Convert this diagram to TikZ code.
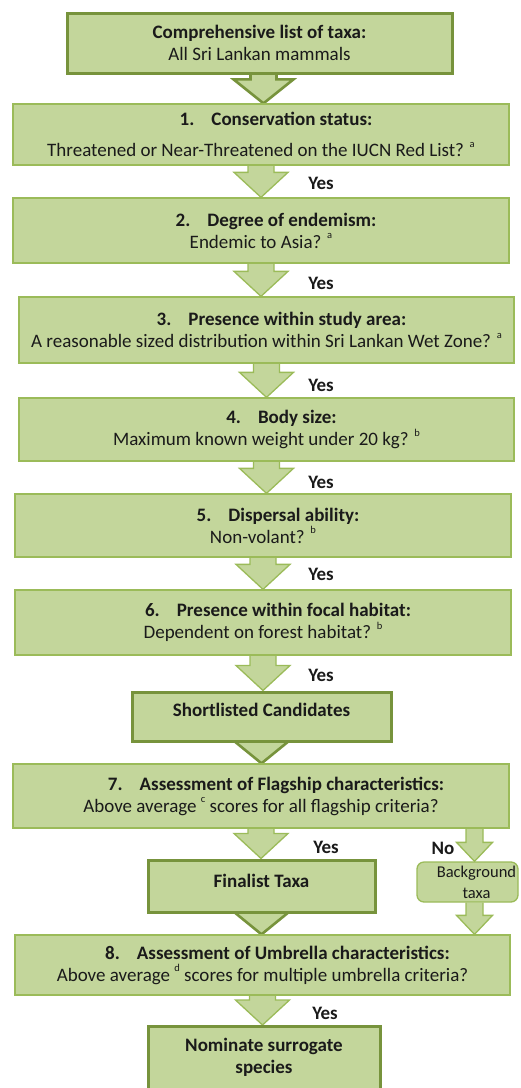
\documentclass[tikz,border=0pt]{standalone}
\usepackage{fontspec}
\setmainfont{Carlito}
\usetikzlibrary{calc,backgrounds}
\definecolor{boxfill}{HTML}{C3D69B}
\definecolor{thinborder}{HTML}{9BBB59}
\definecolor{thickborder}{HTML}{77933C}
\definecolor{txt}{HTML}{1A1A1A}
\newcommand{\sups}[1]{\raisebox{0.5em}{\fontsize{10.5}{10.5}\selectfont #1}}
% block arrow: [style]{from}{to}{shaft half width}{head half width}{head length}
\newcommand{\flowarrow}[6][]{%
  \draw[#1] let \p1=(#2), \p2=(#3) in
    (\x1-#4pt,\y1) -- (\x1-#4pt,\y2+#6pt) -- (\x1-#5pt,\y2+#6pt) -- (\x1,\y2)
    -- (\x1+#5pt,\y2+#6pt) -- (\x1+#4pt,\y2+#6pt) -- (\x1+#4pt,\y1);
}
\begin{document}
\begin{tikzpicture}[x=1pt,y=1pt,
  box/.style={draw=thinborder, fill=boxfill, line width=1.3pt, align=center,
    inner sep=0pt, text=txt, font=\fontsize{19}{22}\selectfont},
  thickbox/.style={box, draw=thickborder, line width=3pt},
  bgbox/.style={box, rounded corners=7pt, font=\fontsize{16.5}{21}\selectfont},
  thinarrow/.style={fill=boxfill, draw=thinborder, line width=1.3pt},
  thickarrow/.style={fill=boxfill, draw=thickborder, line width=2.6pt},
  lab/.style={font=\fontsize{19}{22}\selectfont\bfseries, text=txt, inner sep=0pt}]
\useasboundingbox (0,0) rectangle (520,-1088);

\node[thickbox, minimum width=385pt, minimum height=60pt] (top) at (259.5,-43)
  {\textbf{Comprehensive list of taxa:}\\All Sri Lankan mammals};
\node[box, minimum width=496pt, minimum height=61pt] (b1) at (261,-134.5)
  {\hspace*{30pt}\textbf{1.\hspace{0.9em}Conservation status:}\\[9pt]Threatened or Near-Threatened on the IUCN Red List? \sups{a}};
\node[box, minimum width=496pt, minimum height=65pt] (b2) at (261,-230.5)
  {\hspace*{30pt}\textbf{2.\hspace{0.9em}Degree of endemism:}\\Endemic to Asia? \sups{a}};
\node[box, minimum width=495pt, minimum height=66pt] (b3) at (266.5,-330)
  {\hspace*{30pt}\textbf{3.\hspace{0.9em}Presence within study area:}\\A reasonable sized distribution within Sri Lankan Wet Zone? \sups{a}};
\node[box, minimum width=495pt, minimum height=63pt] (b4) at (266.5,-429.5)
  {\hspace*{30pt}\textbf{4.\hspace{0.9em}Body size:}\\Maximum known weight under 20 kg? \sups{b}};
\node[box, minimum width=496pt, minimum height=63pt] (b5) at (263,-525.5)
  {\hspace*{30pt}\textbf{5.\hspace{0.9em}Dispersal ability:}\\Non-volant? \sups{b}};
\node[box, minimum width=496pt, minimum height=65pt] (b6) at (263,-622.5)
  {\hspace*{30pt}\textbf{6.\hspace{0.9em}Presence within focal habitat:}\\Dependent on forest habitat? \sups{b}};
\node[thickbox, minimum width=259pt, minimum height=49pt, text depth=14pt] (short) at (261.5,-716.5)
  {\textbf{Shortlisted Candidates}};
\node[box, minimum width=496pt, minimum height=64pt] (b7) at (261,-796)
  {\hspace*{30pt}\textbf{7.\hspace{0.9em}Assessment of Flagship characteristics:}\\Above average \sups{c} scores for all flagship criteria?};
\node[thickbox, minimum width=227pt, minimum height=52pt, text depth=10pt] (final) at (261.5,-886)
  {\textbf{Finalist Taxa}};
\node[bgbox, minimum width=101pt, minimum height=40pt] (bg) at (467.5,-882)
  {\hspace*{18pt}Background\\\hspace*{18pt}taxa};
\node[box, minimum width=495pt, minimum height=60pt] (b8) at (262.5,-965)
  {\hspace*{30pt}\textbf{8.\hspace{0.9em}Assessment of Umbrella characteristics:}\\Above average \sups{d} scores for multiple umbrella criteria?};
\node[thickbox, anchor=north, minimum width=232pt] (nom) at (264,-1025)
  {\parbox[t][75pt][t]{228pt}{\centering\bfseries\rule{0pt}{25pt}Nominate surrogate\\species}};

\coordinate (nox) at (474.5,0);

\begin{scope}[on background layer]
\flowarrow[thickarrow]{$(top.south)+(4,0)$}{b1.north}{13}{30}{24}
\flowarrow[thinarrow]{b1.south}{b2.north}{13}{27}{25}
\flowarrow[thinarrow]{b2.south}{b3.north}{13}{27}{25}
\flowarrow[thinarrow]{b3.south}{b4.north}{13}{27}{25}
\flowarrow[thinarrow]{b4.south}{b5.north}{13}{27}{25}
\flowarrow[thinarrow]{b5.south}{b6.north}{13}{27}{25}
\flowarrow[thinarrow]{b6.south}{short.north}{13}{27}{25}
\flowarrow[thickarrow]{short.south}{b7.north}{13}{27}{22}
\flowarrow[thinarrow]{b7.south}{final.north}{13}{27}{25}
\flowarrow[thickarrow]{final.south}{b8.north}{13}{27}{22}
\flowarrow[thinarrow]{b8.south}{nom.north}{13}{27}{25}
\flowarrow[thinarrow]{b7.south -| nox}{bg.north -| nox}{8.5}{18}{19}
\flowarrow[thinarrow]{bg.south -| nox}{b8.north -| nox}{8.5}{18}{19}
\end{scope}

\node[lab] (y1) at (321,-183) {Yes};
\node[lab] (y2) at (321,-283) {Yes};
\node[lab] (y3) at (321,-385) {Yes};
\node[lab] (y4) at (321,-482) {Yes};
\node[lab] (y5) at (321,-574) {Yes};
\node[lab] (y6) at (321,-675) {Yes};
\node[lab] (y7) at (326,-847) {Yes};
\node[lab] (no) at (443,-848) {No};
\node[lab] (y8) at (325,-1013) {Yes};
\end{tikzpicture}
\end{document}
